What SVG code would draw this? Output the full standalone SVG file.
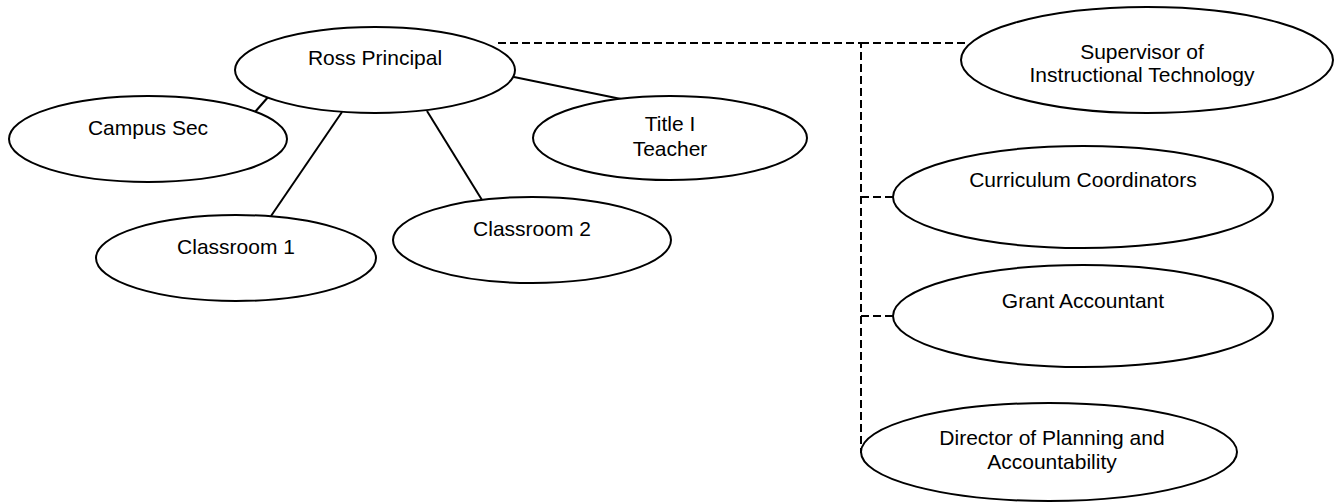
<svg xmlns="http://www.w3.org/2000/svg" width="1335" height="502" viewBox="0 0 1335 502">
<style>
.node ellipse{fill:#fff;stroke:#000;stroke-width:2}
.node text{font-family:"Liberation Sans",Arial,sans-serif;font-size:21px;fill:#000;text-anchor:middle}
.solid{stroke:#000;stroke-width:2;fill:none}
.dash{stroke:#000;stroke-width:2;fill:none;stroke-dasharray:8,4}
</style>
<rect width="1335" height="502" fill="#fff"/>
<g id="connectors">
<line class="solid" x1="269" y1="96" x2="255" y2="112"/>
<line class="solid" x1="342" y1="112" x2="271" y2="216"/>
<line class="solid" x1="427" y1="111" x2="482" y2="200"/>
<line class="solid" x1="514" y1="77" x2="621" y2="99"/>
<polyline class="dash" points="498,43 861,43 861,453"/>
<line class="dash" x1="861" y1="43" x2="968" y2="43"/>
<line class="dash" x1="861" y1="197" x2="893" y2="197"/>
<line class="dash" x1="861" y1="316" x2="893" y2="316"/>
</g>
<g id="ross" class="node"><ellipse cx="375" cy="70" rx="140" ry="43"/><text x="375" y="65">Ross Principal</text></g>
<g id="campus" class="node"><ellipse cx="148" cy="139" rx="139" ry="43"/><text x="148" y="135">Campus Sec</text></g>
<g id="classroom1" class="node"><ellipse cx="236" cy="258" rx="140" ry="43"/><text x="236" y="254">Classroom 1</text></g>
<g id="classroom2" class="node"><ellipse cx="532" cy="240" rx="139" ry="43"/><text x="532" y="236">Classroom 2</text></g>
<g id="title1" class="node"><ellipse cx="670" cy="138" rx="137" ry="42"/><text x="670" y="131">Title I</text><text x="670" y="156">Teacher</text></g>
<g id="supervisor" class="node"><ellipse cx="1147" cy="60" rx="186" ry="53"/><text x="1142" y="59">Supervisor of</text><text x="1142" y="82">Instructional Technology</text></g>
<g id="curriculum" class="node"><ellipse cx="1083" cy="197" rx="190" ry="51"/><text x="1083" y="187">Curriculum Coordinators</text></g>
<g id="grant" class="node"><ellipse cx="1083" cy="316" rx="190" ry="51"/><text x="1083" y="308">Grant Accountant</text></g>
<g id="director" class="node"><ellipse cx="1049" cy="452" rx="188" ry="49"/><text x="1052" y="445">Director of Planning and</text><text x="1052" y="469">Accountability</text></g>
</svg>
